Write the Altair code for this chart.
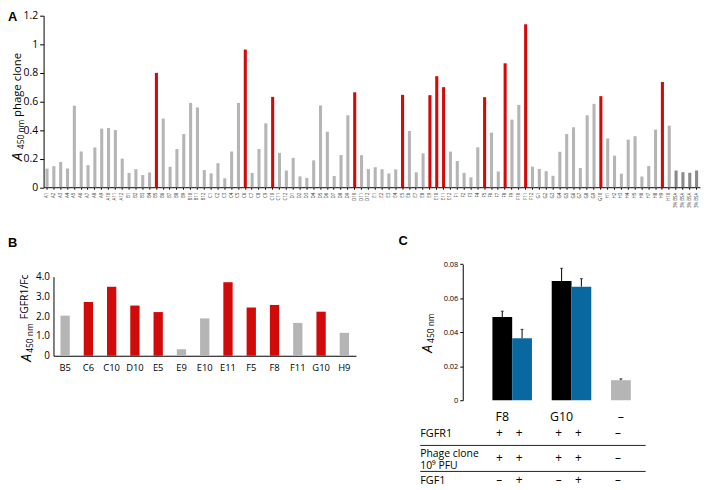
import altair as alt
import pandas as pd

FONT = "Open Sans"
RED = "#d10a0a"
GRAY = "#b5b5b5"
DARK = "#8a8a8a"
BLUE = "#0a68a0"

# ---------------- Panel A data ----------------
row_A = [0.130, 0.147, 0.177, 0.131, 0.570, 0.250, 0.154, 0.278, 0.410, 0.414, 0.400, 0.200]
row_B = [0.100, 0.126, 0.085, 0.103, 0.800, 0.480, 0.143, 0.267, 0.372, 0.590, 0.558, 0.120]
row_C = [0.097, 0.168, 0.062, 0.250, 0.590, 0.963, 0.100, 0.267, 0.447, 0.632, 0.240, 0.117]
row_D = [0.205, 0.076, 0.065, 0.188, 0.572, 0.388, 0.078, 0.225, 0.503, 0.664, 0.224, 0.127]
row_E = [0.140, 0.126, 0.096, 0.125, 0.646, 0.394, 0.104, 0.237, 0.644, 0.777, 0.700, 0.249]
row_F = [0.183, 0.100, 0.069, 0.279, 0.630, 0.382, 0.110, 0.867, 0.473, 0.576, 1.140, 0.144]
row_G = [0.128, 0.112, 0.080, 0.248, 0.372, 0.419, 0.134, 0.503, 0.583, 0.637]
row_H = [0.341, 0.221, 0.095, 0.333, 0.357, 0.075, 0.148, 0.403, 0.736, 0.431]
bsa_values = [0.117, 0.105, 0.101, 0.117]
positive_wells = ["B5", "C6", "C10", "D10", "E5", "E9", "E10", "E11", "F5", "F8", "F11", "G10", "H9"]

# ---------------- Panel B data ----------------
clones_B = ["B5", "C6", "C10", "D10", "E5", "E9", "E10", "E11", "F5", "F8", "F11", "G10", "H9"]
values_B = [2.03, 2.72, 3.49, 2.54, 2.21, 0.33, 1.89, 3.72, 2.44, 2.57, 1.66, 2.23, 1.16]
confirmed_B = [False, True, True, True, True, False, False, True, True, True, False, True, False]

# ---------------- Panel C data ----------------
slots_C = ["F8 -", "F8 +", "gap1", "G10 -", "G10 +", "gap2", "none"]
bar_slot_C = ["F8 -", "F8 +", "G10 -", "G10 +", "none"]
bar_value_C = [0.0489, 0.0365, 0.0701, 0.0668, 0.0118]
bar_err_C = [0.0035, 0.0052, 0.0075, 0.0047, 0.0008]
bar_color_C = ["#000000", BLUE, "#000000", BLUE, GRAY]
header_C = ["F8", "G10", "–"]
header_slot_C = ["F8 -", "G10 -", "none"]
fgfr1_row = ["+", "+", "+", "+", "–"]
phage_row = ["+", "+", "+", "+", "–"]
fgf1_row = ["–", "+", "–", "+", "–"]

# ---------------- build tables ----------------
wells, vals = [], []
for letter, row in zip("ABCDEFGH", [row_A, row_B, row_C, row_D, row_E, row_F, row_G, row_H]):
    for i, v in enumerate(row):
        wells.append(f"{letter}{i + 1}")
        vals.append(v)
for i, v in enumerate(bsa_values):
    wells.append(f"BSA{i + 1}")
    vals.append(v)
colA = [RED if w in positive_wells else (DARK if w.startswith("BSA") else GRAY) for w in wells]
dfA = pd.DataFrame({"well": wells, "value": vals, "color": colA})

dfB = pd.DataFrame({"clone": clones_B, "value": values_B,
                    "color": [RED if c else GRAY for c in confirmed_B]})

dfC = pd.DataFrame({"slot": bar_slot_C, "value": bar_value_C,
                    "upper": [v + e for v, e in zip(bar_value_C, bar_err_C)],
                    "color": bar_color_C})
dfHead = pd.DataFrame({"slot": header_slot_C, "label": header_C})
dfR1 = pd.DataFrame({"slot": bar_slot_C, "label": fgfr1_row})
dfR2 = pd.DataFrame({"slot": bar_slot_C, "label": phage_row})
dfR3 = pd.DataFrame({"slot": bar_slot_C, "label": fgf1_row})
one = pd.DataFrame({"k": [0]})

# ---------------- Panel A ----------------
layerA = alt.Chart(dfA).mark_bar().encode(
    x=alt.X("well:N", sort=wells,
            scale=alt.Scale(domain=wells, range=[36, 700], paddingInner=0.55, paddingOuter=0.275),
            axis=alt.Axis(orient="bottom", offset=-303.5, title=None, labelAngle=270,
                          labelFontSize=4.5, labelPadding=3, tickSize=2, labelFont=FONT,
                          labelColor="#333333",
                          labelExpr="indexof(datum.label, 'BSA') >= 0 ? '3% BSA' : datum.label")),
    y=alt.Y("value:Q",
            scale=alt.Scale(domain=[0, 1.2], range=[178.5, 5], nice=False),
            axis=alt.Axis(orient="left", offset=-36, title=None, values=[0, 0.2, 0.4, 0.6, 0.8, 1.0, 1.2],
                          format="~g", labelFontSize=10.5, tickSize=4, labelPadding=2, grid=False)),
    color=alt.Color("color:N", scale=None),
)

# ---------------- Panel B ----------------
layerB = alt.Chart(dfB).mark_bar().encode(
    x=alt.X("clone:N", sort=clones_B,
            scale=alt.Scale(domain=clones_B, range=[46, 352], paddingInner=0.6, paddingOuter=0.3),
            axis=alt.Axis(orient="bottom", offset=-133, title=None, labelAngle=0, ticks=False,
                          labelFontSize=9.5, labelPadding=7)),
    y=alt.Y("value:Q",
            scale=alt.Scale(domain=[0, 4], range=[349, 269], nice=False),
            axis=alt.Axis(orient="left", offset=-46, title=None, values=[0, 1, 2, 3, 4],
                          labelExpr="datum.value == 0 ? '0' : format(datum.value, '.1f')",
                          labelFontSize=10, ticks=False, labelPadding=4, grid=False)),
    color=alt.Color("color:N", scale=None),
)

# ---------------- Panel C ----------------
xC = alt.X("slot:N", sort=slots_C,
           scale=alt.Scale(domain=slots_C, range=[490, 630], paddingInner=0, paddingOuter=0),
           axis=None)
yC = alt.Y("value:Q",
           scale=alt.Scale(domain=[0, 0.08], range=[394, 256.4], nice=False),
           axis=alt.Axis(orient="left", offset=-460, title=None, values=[0, 0.02, 0.04, 0.06, 0.08],
                         format="~g", labelFontSize=7.5, tickSize=3, labelPadding=2, grid=False))
barsC = alt.Chart(dfC).mark_bar().encode(x=xC, y=yC, color=alt.Color("color:N", scale=None))
errC = alt.Chart(dfC).mark_rule(color="black", strokeWidth=1).encode(x=xC, y="value:Q", y2="upper:Q")
capC = alt.Chart(dfC).mark_tick(color="black", thickness=1, size=3).encode(x=xC, y="upper:Q")

def table_row(df, ypix, dx=-3, size=12):
    return alt.Chart(df).mark_text(font=FONT, fontSize=size, color="black", dx=dx).encode(
        x=xC, y=alt.value(ypix), text="label:N")

headC = table_row(dfHead, 410.8, dx=0, size=12.5)
r1C = table_row(dfR1, 427.5)
r2C = table_row(dfR2, 452.3)
r3C = table_row(dfR3, 474.7)
layerC = alt.layer(barsC, errC, capC, headC, r1C, r2C, r3C)

# ---------------- annotations ----------------
def label(text, x, y, size, style="normal", weight="normal", angle=0, align="left",
          baseline="alphabetic", font=FONT):
    return alt.Chart(one).mark_text(text=text, font=font, fontSize=size, fontStyle=style,
                                    fontWeight=weight, angle=angle, align=align, baseline=baseline,
                                    color="black").encode(x=alt.value(x), y=alt.value(y))

ann = [
    label("A", 0, 0, 13, weight="bold", baseline="top", font="Liberation Sans"),
    label("B", 0, 229, 13, weight="bold", baseline="top", font="Liberation Sans"),
    label("C", 395, 227, 13, weight="bold", baseline="top", font="Liberation Sans"),
    # panel A axis title
    label("A", 14.5, 152, 15, style="italic", angle=270),
    label("450 nm", 16, 140, 8.5, angle=270),
    label("phage clone", 13, 107.5, 11.5, angle=270),
    # panel B axis title
    label("A", 23, 355, 14, style="italic", angle=270),
    label("450 nm", 25, 346, 8.5, angle=270),
    label("FGFR1/Fc", 20, 312, 10.5, angle=270),
    # panel C axis title
    label("A", 429, 346, 14, style="italic", angle=270),
    label("450 nm", 431, 336, 8.5, angle=270),
    # table row labels
    label("FGFR1", 417, 431.5, 11),
    label("Phage clone", 417, 451, 10.5),
    label("10⁹ PFU", 417, 464, 10.5),
    label("FGF1", 417, 478.5, 11),
]
rules = [
    alt.Chart(one).mark_rule(color="#222222", strokeWidth=1).encode(
        x=alt.value(417), x2=alt.value(645), y=alt.value(439.7)),
    alt.Chart(one).mark_rule(color="#222222", strokeWidth=1).encode(
        x=alt.value(417), x2=alt.value(645), y=alt.value(466)),
]

chart = alt.layer(layerA, layerB, layerC, *ann, *rules).resolve_scale(
    x="independent", y="independent"
).resolve_axis(x="independent", y="independent").properties(
    width=701, height=482, padding=0, autosize=alt.AutoSizeParams(type="none"),
    background="white",
).configure_view(stroke=None).configure_axis(
    labelFont=FONT, domainColor="black", tickColor="black", labelColor="black", grid=False,
    domainWidth=1,
)

chart.save("out.html", embed_options={"renderer": "svg", "actions": False})
